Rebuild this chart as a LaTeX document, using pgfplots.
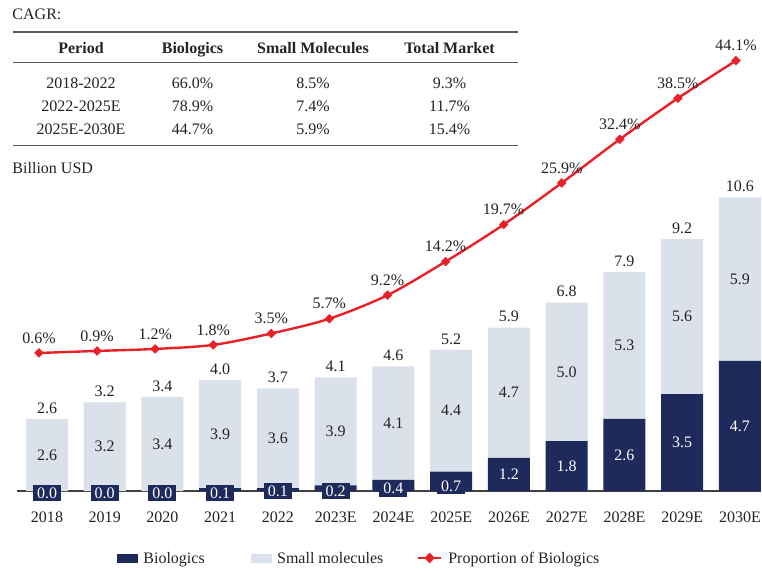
\documentclass[border=0pt]{standalone}
\usepackage{pgfplots}
\pgfplotsset{compat=1.18}
\usepackage{pgfplotstable}
\usepackage{fontspec}
\setmainfont{Liberation Serif}

\definecolor{navy}{RGB}{31,42,92}
\definecolor{lightbar}{RGB}{218,225,235}
\definecolor{redline}{RGB}{233,32,39}
\definecolor{txt}{RGB}{35,35,35}
\newcommand{\f}{\fontsize{16}{19}\selectfont}

\pgfplotstableread{
idx bio small total blab prop
0  0.0 2.6 2.6  -0.07 0.6
1  0.0 3.2 3.2  -0.07 0.9
2  0.0 3.4 3.4  -0.07 1.2
3  0.1 3.9 4.0  -0.07 1.8
4  0.1 3.6 3.7   0.00 3.5
5  0.2 3.9 4.1   0.00 5.7
6  0.4 4.1 4.6   0.09 9.2
7  0.7 4.4 5.2   0.18 14.2
8  1.2 4.7 5.9   0.60 19.7
9  1.8 5.0 6.8   0.90 25.9
10 2.6 5.3 7.9   1.30 32.4
11 3.5 5.6 9.2   1.75 38.5
12 4.7 5.9 10.6  2.35 44.1
}\data

\pgfplotsset{
  myframe/.style={
    at={(17pt,79pt)}, anchor=south west, scale only axis,
    width=744pt, height=451pt, clip=false,
  },
  barx/.style={xmin=-0.5195, xmax=12.364, ymin=0, ymax=16.28},
}

\begin{document}
\begin{tikzpicture}
\path[use as bounding box] (0pt,0pt) rectangle (762pt,570pt);

% ---------- table ----------
\node[anchor=base west, text=txt, inner sep=0pt] at (12.3pt,{(570-19.3)*1pt}) {\f CAGR:};
\draw[line width=1.6pt, black!65] (12.5pt,{(570-32.3)*1pt}) -- (517.5pt,{(570-32.3)*1pt});
\draw[line width=1.4pt, black!65] (12.5pt,{(570-62.7)*1pt}) -- (517.5pt,{(570-62.7)*1pt});
\draw[line width=1.6pt, black!65] (12.5pt,{(570-145.7)*1pt}) -- (517.5pt,{(570-145.7)*1pt});
\foreach \cx/\t in {81/Period, 192.5/Biologics, 313/Small Molecules, 449.5/Total Market}
  \node[anchor=base, text=txt, inner sep=0pt] at ({\cx*1pt},{(570-53.6)*1pt}) {\f\bfseries \t};
\foreach \cy/\a/\b/\c/\d in {82.8/2018-2022/66.0\%/8.5\%/9.3\%,
                             106.1/2022-2025E/78.9\%/7.4\%/11.7\%,
                             129.4/2025E-2030E/44.7\%/5.9\%/15.4\%}{
  \node[anchor=base, text=txt, inner sep=0pt] at (81pt,{(570-\cy-5.3)*1pt}) {\f \a};
  \node[anchor=base, text=txt, inner sep=0pt] at (192.5pt,{(570-\cy-5.3)*1pt}) {\f \b};
  \node[anchor=base, text=txt, inner sep=0pt] at (313pt,{(570-\cy-5.3)*1pt}) {\f \c};
  \node[anchor=base, text=txt, inner sep=0pt] at (449.5pt,{(570-\cy-5.3)*1pt}) {\f \d};
}
\node[anchor=base west, text=txt, inner sep=0pt] at (12.3pt,{(570-173.6)*1pt}) {\f Billion USD};

% ---------- bars ----------
\begin{axis}[myframe, barx,
  ybar stacked, bar width=42pt,
  axis x line*=bottom, axis y line=none,
  x axis line style={draw=black!75, line width=1.5pt},
  xtick={0,...,12}, major tick length=0pt,
  xticklabels={2018,2019,2020,2021,2022,2023E,2024E,2025E,2026E,2027E,2028E,2029E,2030E},
  xticklabel style={font=\f, text=txt, anchor=base, yshift=-31pt, inner sep=0pt},
]
\addplot[fill=navy, draw=none] table[x=idx, y=bio] {\data};
\addplot[fill=lightbar, draw=none] table[x=idx, y=small] {\data};
\end{axis}

% ---------- bar labels ----------
\begin{axis}[myframe, barx, hide axis]
\addplot[draw=none, mark=none, nodes near coords, point meta=explicit symbolic,
  every node near coord/.append style={anchor=center, font=\f, text=white, fill=navy,
    inner xsep=4pt, inner ysep=3pt, text height=10.6pt, text depth=0pt}]
  table[x=idx, y=blab, meta=bio] {\data};
\addplot[draw=none, mark=none, nodes near coords, point meta=explicit symbolic,
  every node near coord/.append style={anchor=center, font=\f, text=txt,
    inner sep=0pt, text height=10.6pt, text depth=0pt}]
  table[x=idx, y expr=\thisrow{bio}+\thisrow{small}/2, meta=small] {\data};
\addplot[draw=none, mark=none, nodes near coords, point meta=explicit symbolic,
  every node near coord/.append style={anchor=center, font=\f, text=txt, yshift=11pt,
    inner sep=0pt, text height=10.6pt, text depth=0pt}]
  table[x=idx, y expr=\thisrow{bio}+\thisrow{small}, meta=total] {\data};
\end{axis}

% ---------- line ----------
\begin{axis}[myframe, hide axis,
  xmin=-0.3788, xmax=12.431, ymin=-19.94, ymax=47.17,
  legend columns=-1,
  legend style={draw=none, fill=none, at={(0.1344,-0.1486)}, anchor=west,
    inner sep=0pt, outer sep=0pt, column sep=0pt,
    font=\f, text=txt,
    nodes={inner sep=0pt, text height=10.6pt, text depth=0pt},
    /tikz/column 1/.style={column sep=6pt},
    /tikz/column 2/.style={column sep=46pt},
    /tikz/column 3/.style={column sep=6pt},
    /tikz/column 4/.style={column sep=34pt},
    /tikz/column 5/.style={column sep=6.5pt}},
  legend cell align=left,
]
\addlegendimage{legend image code/.code={\fill[navy] (0pt,-3.7pt) rectangle (20pt,3.7pt);}}
\addlegendentry{Biologics}
\addlegendimage{legend image code/.code={\fill[lightbar] (0pt,-3.7pt) rectangle (20pt,3.7pt);}}
\addlegendentry{Small molecules}
\addplot[redline, line width=2.4pt, smooth, mark=square*, mark size=3.1pt,
  mark options={solid, rotate=45, fill=redline, draw=redline, line width=0.5pt},
  nodes near coords={\pgfplotspointmeta\%}, point meta=explicit symbolic,
  every node near coord/.append style={anchor=center, font=\f, text=txt, yshift=15pt,
    inner sep=0pt, text height=10.6pt, text depth=0pt},
  legend image code/.code={
    \draw[redline, line width=1.5pt] (0pt,0pt) -- (23pt,0pt);
    \fill[redline] (11.5pt,3.6pt) -- (15pt,0pt) -- (11.5pt,-3.6pt) -- (8pt,0pt) -- cycle;}]
  table[x=idx, y=prop, meta=prop] {\data};
\addlegendentry{Proportion of Biologics}
\end{axis}
\end{tikzpicture}
\end{document}
